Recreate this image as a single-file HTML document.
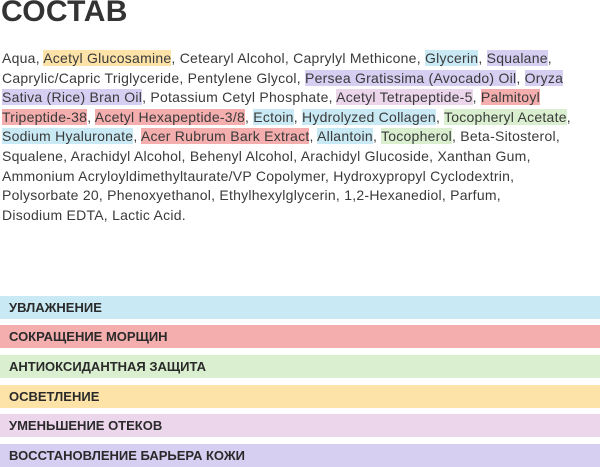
<!DOCTYPE html>
<html><head><meta charset="utf-8"><style>
body{margin:0;width:600px;height:465px;background:#fff;position:relative;overflow:hidden;font-family:"Liberation Sans",sans-serif;color:#333}
h1{position:absolute;left:1px;top:-5px;margin:0;font-size:30px;font-weight:bold;color:#333;letter-spacing:0.3px}
.t{position:absolute;left:2px;top:49px;font-size:14px;letter-spacing:0.25px;line-height:19.6px;white-space:nowrap;color:#3a3a3a}
.y{background:#fde3a7}.b{background:#c9e9f4}.p{background:#d6cff2}.k{background:#ecd6ec}.r{background:#f5aeae}.g{background:#d9efcf}
.bar{position:absolute;left:0;width:600px;height:23px;font-size:13px;font-weight:bold;color:#2a2a2a;line-height:23px;padding-left:9px;box-sizing:border-box}
</style></head><body>
<h1>СОСТАВ</h1>
<div class="t">
Aqua, <span class="y">Acetyl Glucosamine</span>, Cetearyl Alcohol, Caprylyl Methicone, <span class="b">Glycerin</span>, <span class="p">Squalane</span>,<br>
Caprylic/Capric Triglyceride, Pentylene Glycol, <span class="p">Persea Gratissima (Avocado) Oil</span>, <span class="p">Oryza</span><br>
<span class="p">Sativa (Rice) Bran Oil</span>, Potassium Cetyl Phosphate, <span class="k">Acetyl Tetrapeptide-5</span>, <span class="r">Palmitoyl</span><br>
<span class="r">Tripeptide-38</span>, <span class="r">Acetyl Hexapeptide-3/8</span>, <span class="b">Ectoin</span>, <span class="b">Hydrolyzed Collagen</span>, <span class="g">Tocopheryl Acetate</span>,<br>
<span class="b">Sodium Hyaluronate</span>, <span class="r">Acer Rubrum Bark Extract</span>, <span class="b">Allantoin</span>, <span class="g">Tocopherol</span>, Beta-Sitosterol,<br>
Squalene, Arachidyl Alcohol, Behenyl Alcohol, Arachidyl Glucoside, Xanthan Gum,<br>
Ammonium Acryloyldimethyltaurate/VP Copolymer, Hydroxypropyl Cyclodextrin,<br>
Polysorbate 20, Phenoxyethanol, Ethylhexylglycerin, 1,2-Hexanediol, Parfum,<br>
Disodium EDTA, Lactic Acid.
</div>
<div class="bar b" style="top:296px">УВЛАЖНЕНИЕ</div>
<div class="bar r" style="top:325px">СОКРАЩЕНИЕ МОРЩИН</div>
<div class="bar g" style="top:355px">АНТИОКСИДАНТНАЯ ЗАЩИТА</div>
<div class="bar y" style="top:385px">ОСВЕТЛЕНИЕ</div>
<div class="bar k" style="top:414px">УМЕНЬШЕНИЕ ОТЕКОВ</div>
<div class="bar p" style="top:444px">ВОССТАНОВЛЕНИЕ БАРЬЕРА КОЖИ</div>
</body></html>
